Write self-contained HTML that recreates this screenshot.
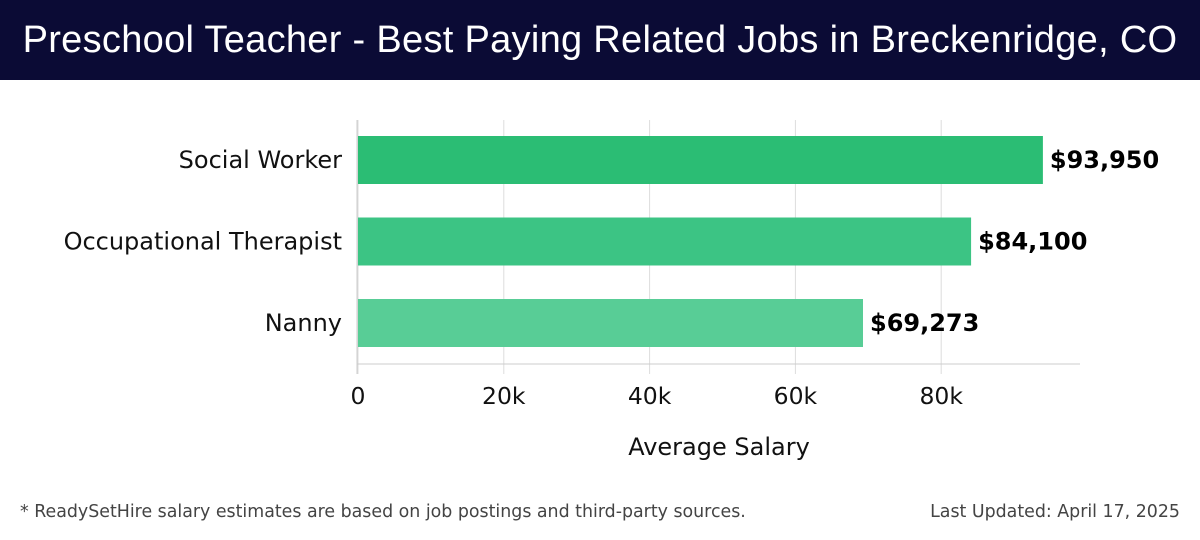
<!DOCTYPE html>
<html><head><meta charset="utf-8"><style>
body{margin:0;width:1200px;height:540px;background:#fff;overflow:hidden;font-family:"DejaVu Sans",sans-serif}
#title{position:absolute;left:0;top:0;width:1200px;height:80px;background:#0b0b35;color:#fff;font-family:"Liberation Sans",sans-serif;font-size:38px;line-height:80px;text-align:center;letter-spacing:0.3px}
.foot{position:absolute;top:502px;font-size:17.4px;color:#444}
</style></head><body>
<div id="title">Preschool Teacher - Best Paying Related Jobs in Breckenridge, CO</div>
<svg id="chart" width="1200" height="540" style="position:absolute;left:0;top:0;font-family:'DejaVu Sans',sans-serif"></svg>
<div class="foot" style="left:20px">* ReadySetHire salary estimates are based on job postings and third-party sources.</div>
<div class="foot" style="right:20px">Last Updated: April 17, 2025</div>
<script>
const categories=["Social Worker","Occupational Therapist","Nanny"];
const values=[93950,84100,69273];
const valueLabels=["$93,950","$84,100","$69,273"];
const ticks=[0,20000,40000,60000,80000];
const tickLabels=["0","20k","40k","60k","80k"];
const colors=["#2bbd74","#3cc484","#58cd96"];
const svg=document.getElementById('chart');
const NS="http://www.w3.org/2000/svg";
const x=v=>358+v*(145.8/20000);
const bandTop=120,bandH=81.5,barH=48;
const yc=i=>bandTop+bandH*i+16+barH/2;
function mk(t,a,txt){const e=document.createElementNS(NS,t);for(const k in a)e.setAttribute(k,a[k]);if(txt!==undefined)e.textContent=txt;svg.appendChild(e);return e;}
ticks.forEach((t,i)=>{
 const g=mk('line',{x1:x(t),x2:x(t),y1:120,y2:374,stroke:'#ddd','stroke-width':1});
 
 
 const l=mk('text',{x:x(t),y:404,'text-anchor':'middle','font-size':23.5,fill:'#111'},tickLabels[i]);
 
 
});
const ax=mk('line',{x1:357,x2:1080,y1:364,y2:364,stroke:'#ccc','stroke-width':1});


const ay=mk('line',{x1:357,x2:357,y1:120,y2:374,stroke:'#ccc','stroke-width':1});


categories.forEach((c,i)=>{
 const r=mk('rect',{x:x(0),y:yc(i)-barH/2,width:x(values[i])-x(0),height:barH,fill:colors[i]});
 
 
 const l=mk('text',{x:342,y:yc(i)+8,'text-anchor':'end','font-size':24,fill:'#111'},c);
 
 
 const v=mk('text',{x:x(values[i])+7,y:yc(i)+8,'font-size':24,'font-weight':'bold',fill:'#000'},valueLabels[i]);
 
 
});
const at=mk('text',{x:719,y:455,'text-anchor':'middle','font-size':24,fill:'#111'},'Average Salary');


</script>
</body></html>
